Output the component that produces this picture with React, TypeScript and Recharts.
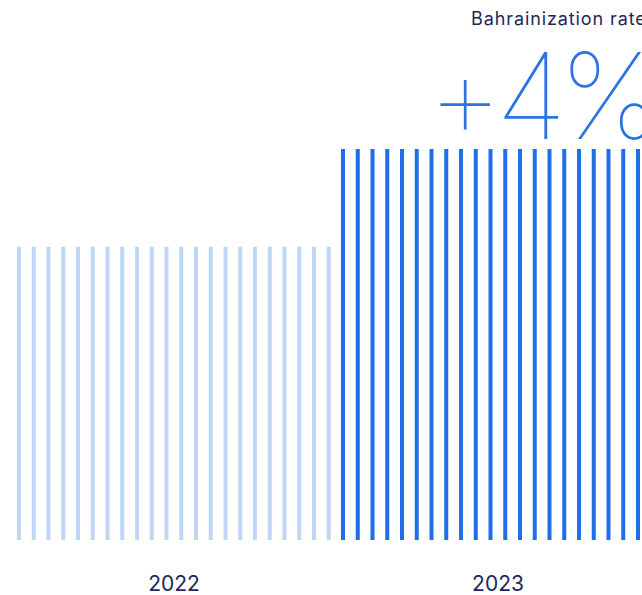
import React from "react";
import { BarChart, Bar, XAxis, YAxis } from "recharts";

const years = ["2022", "2023"];
const rates = [12, 16];
const barColors = ["#bfd6f6", "#1f6fe6"];

const chartData = years.map((year, i) => ({ year, rate: rates[i], color: barColors[i] }));

// bars are drawn as a run of thin vertical stripes
const StripedBar = (props: any) => {
  const { x, y, width, height, payload } = props;
  const period = 14.75;
  const stripe = 4;
  const rects = [];
  for (let i = 0; x + i * period + stripe <= x + width + 0.5; i++) {
    rects.push(
      <rect key={i} x={x + i * period} y={y} width={stripe} height={height} fill={payload.color} />
    );
  }
  return <g>{rects}</g>;
};

const App = () => {
  return (
    <div
      style={{
        position: "absolute",
        left: 0,
        top: 0,
        width: 642,
        height: 595,
        overflow: "hidden",
        background: "#fff",
      }}
    >
      <div
        style={{
          position: "absolute",
          left: 471,
          top: 8,
          fontFamily: "Inter, sans-serif",
          fontSize: 18,
          lineHeight: "22px",
          letterSpacing: 0.9,
          color: "#1e2858",
          whiteSpace: "nowrap",
        }}
      >
        Bahrainization rate
      </div>
      <div
        style={{
          position: "absolute",
          left: 427,
          top: 48,
          fontFamily: "Inter, sans-serif",
          fontWeight: 100,
          fontSize: 120,
          letterSpacing: -8,
          lineHeight: 0.8,
          color: "#2a74e2",
          whiteSpace: "nowrap",
        }}
      >
        +4%
      </div>
      <BarChart
        width={660}
        height={595}
        data={chartData}
        margin={{ top: 149, right: 0, left: 12, bottom: 0 }}
      >
        <XAxis
          dataKey="year"
          axisLine={false}
          tickLine={false}
          tickSize={0}
          tickMargin={36}
          height={55}
          tick={{ fill: "#1e2858", fontSize: 21, fontFamily: "Inter, sans-serif" }}
        />
        <YAxis hide domain={[0, 16]} />
        <Bar dataKey="rate" barSize={314} shape={StripedBar} isAnimationActive={false} />
      </BarChart>
    </div>
  );
};

export default App;
